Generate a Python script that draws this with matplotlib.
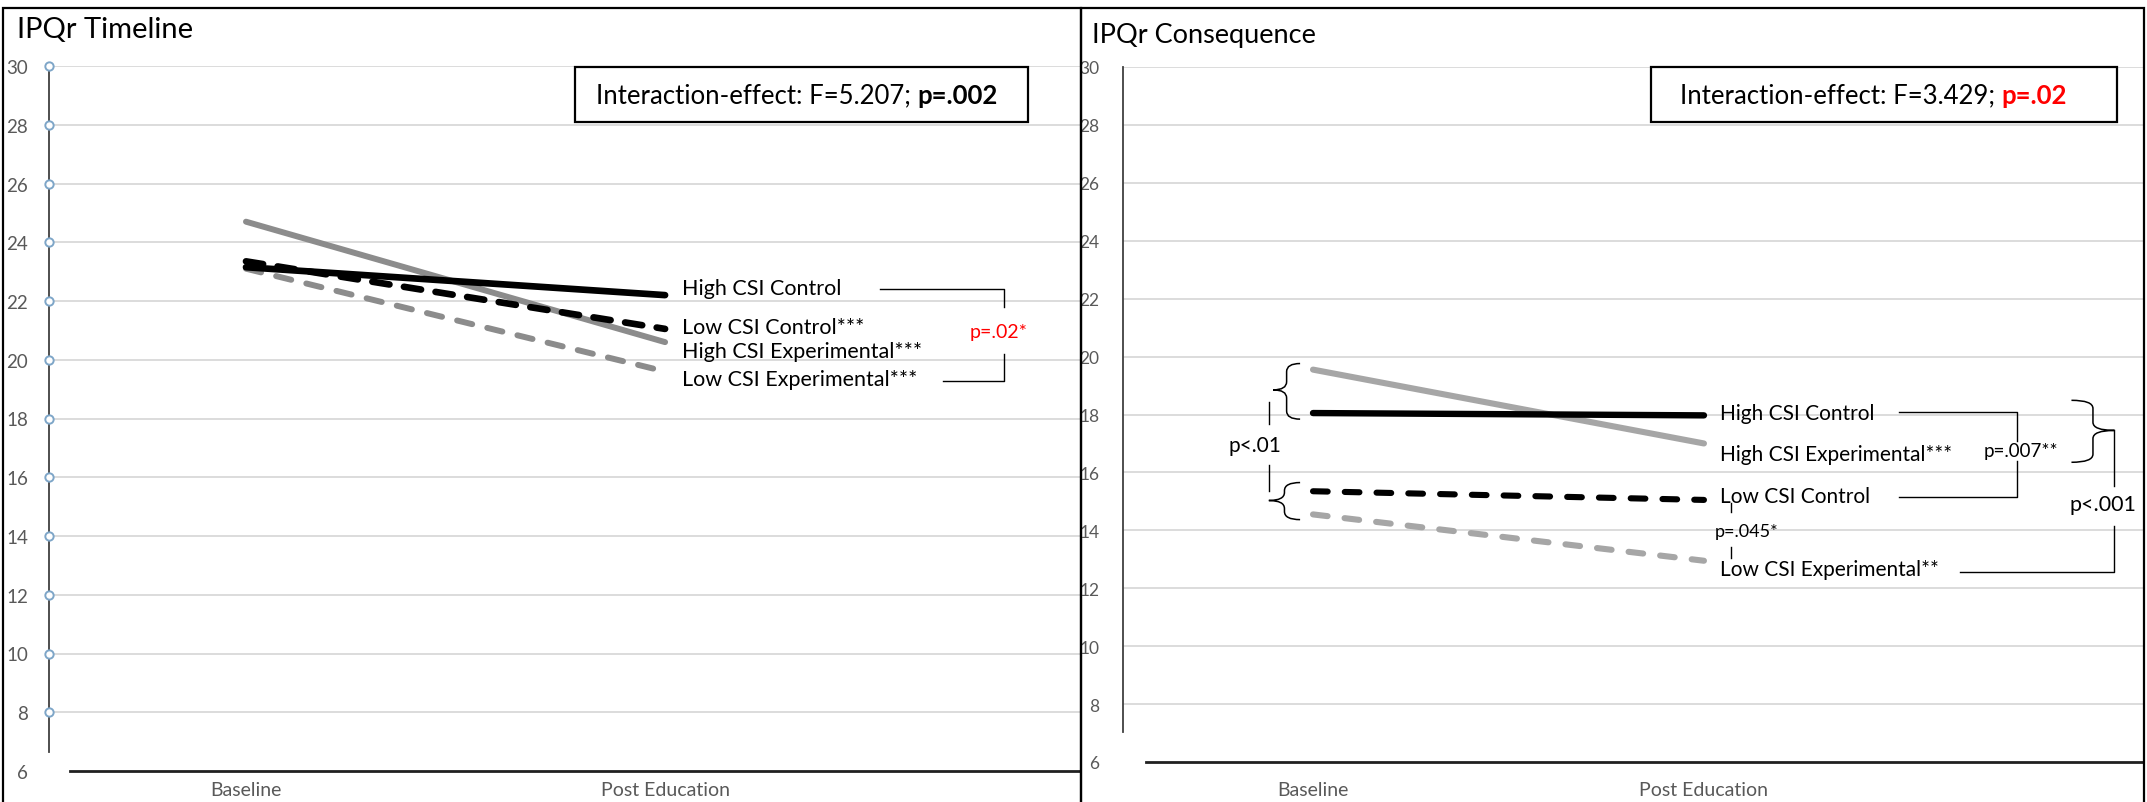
import matplotlib
matplotlib.use('Agg')
import matplotlib.pyplot as plt
from matplotlib.patches import Rectangle, PathPatch
from matplotlib.path import Path

plt.rcParams['font.family'] = ['Lato', 'DejaVu Sans']

# data
timepoints = ['Baseline', 'Post Education']
yticks = list(range(6, 31, 2))

tl_high_ctrl = [23.15, 22.2]
tl_low_ctrl = [23.35, 21.05]
tl_high_exp = [24.7, 20.6]
tl_low_exp = [23.1, 19.6]
tl_labels = ['High CSI Control', 'Low CSI Control***',
             'High CSI Experimental***', 'Low CSI Experimental***']
tl_label_y = [22.45, 21.1, 20.3, 19.35]

cq_high_ctrl = [18.05, 17.97]
cq_high_exp = [19.55, 17.0]
cq_low_ctrl = [15.35, 15.05]
cq_low_exp = [14.55, 12.95]
cq_labels = ['High CSI Control', 'High CSI Experimental***',
             'Low CSI Control', 'Low CSI Experimental**']
cq_label_y = [18.05, 16.62, 15.18, 12.65]

W, H = 2147, 803
fig = plt.figure(figsize=(W / 100, H / 100), dpi=100)


def fx(px):
    return px / W


def fy(py):
    return 1 - py / H


def brace(ax, x_hook, x_tip, y_top, y_bot, y_tip, r=0.28):
    xm = (x_hook + x_tip) / 2
    verts = [(x_hook, y_top), (xm, y_top), (xm, y_top - r),
             (xm, y_tip + r), (xm, y_tip), (x_tip, y_tip),
             (xm, y_tip), (xm, y_tip - r),
             (xm, y_bot + r), (xm, y_bot), (x_hook, y_bot)]
    codes = [Path.MOVETO, Path.CURVE3, Path.CURVE3, Path.LINETO,
             Path.CURVE3, Path.CURVE3, Path.CURVE3, Path.CURVE3,
             Path.LINETO, Path.CURVE3, Path.CURVE3]
    ax.add_patch(PathPatch(Path(verts, codes), fill=False, lw=1.1, color='black'))


def setup(ax, xlim, y_spine_low, x_spine_low, tick_fs, pad, xpad):
    ax.set_xlim(*xlim)
    ax.set_ylim(6, 30)
    ax.set_yticks(yticks)
    ax.set_xticks([0, 1])
    ax.set_xticklabels(timepoints)
    for s in ['top', 'right']:
        ax.spines[s].set_visible(False)
    ax.spines['left'].set_bounds(y_spine_low, 30)
    ax.spines['left'].set_color('#404040')
    ax.spines['left'].set_linewidth(1.3)
    ax.spines['bottom'].set_bounds(x_spine_low, xlim[1])
    ax.spines['bottom'].set_linewidth(2.0)
    ax.spines['bottom'].set_color('#202020')
    ax.tick_params(axis='y', length=0, pad=pad, labelsize=tick_fs, labelcolor='#595959')
    ax.tick_params(axis='x', length=0, pad=xpad, labelsize=14, labelcolor='#595959')
    for y in yticks[1:]:
        ax.axhline(y, color='#dcdcdc', lw=1.4, zorder=0)
    ax.patch.set_alpha(0)


# ---------------- left panel: IPQr Timeline ----------------
ax1 = fig.add_axes([fx(49), 31 / H, fx(1080 - 49), (772 - 67) / H])
setup(ax1, (-0.47, 1.99), 6.65, -0.42, 13.5, 15, 7)
ax1.plot([-0.47] * (len(yticks) - 1), yticks[1:], 'o', ms=6, mfc='white',
         mec='#7ea6c8', mew=1.4, clip_on=False, zorder=5)

ax1.plot([0, 1], tl_high_exp, color='#8c8c8c', lw=4.3, solid_capstyle='round')
ax1.plot([0, 1], tl_low_exp, color='#8c8c8c', lw=4.3, ls=(0, (2.6, 2.6)), dash_capstyle='round')
ax1.plot([0, 1], tl_low_ctrl, color='black', lw=4.8, ls=(0, (2.6, 2.2)), dash_capstyle='round')
ax1.plot([0, 1], tl_high_ctrl, color='black', lw=4.8, solid_capstyle='round')
for lab, y in zip(tl_labels, tl_label_y):
    ax1.text(1.04, y, lab, fontsize=15.5, va='center', ha='left')

ax1.plot([1.513, 1.809, 1.809], [22.4, 22.4, 21.79], color='black', lw=1.0)
ax1.plot([1.809, 1.809, 1.663], [20.19, 19.27, 19.27], color='black', lw=1.0)
ax1.text(1.797, 20.95, 'p=.02*', color='red', fontsize=14, ha='center', va='center')

# ---------------- right panel: IPQr Consequence ----------------
ax2 = fig.add_axes([fx(1123), 40 / H, fx(2143 - 1123), (763 - 68) / H])
setup(ax2, (-0.486, 2.123), 7.04, -0.427, 12.5, 17, 14)

ax2.plot([0, 1], cq_high_exp, color='#a6a6a6', lw=4.4, solid_capstyle='round')
ax2.plot([0, 1], cq_low_exp, color='#a6a6a6', lw=4.4, ls=(0, (2.4, 2.8)), dash_capstyle='round')
ax2.plot([0, 1], cq_low_ctrl, color='black', lw=4.4, ls=(0, (2.4, 2.8)), dash_capstyle='round')
ax2.plot([0, 1], cq_high_ctrl, color='black', lw=4.6, solid_capstyle='round')
for lab, y in zip(cq_labels, cq_label_y):
    ax2.text(1.04, y, lab, fontsize=15, va='center', ha='left')

brace(ax2, -0.033, -0.102, 19.76, 17.84, 18.85)
brace(ax2, -0.033, -0.113, 15.65, 14.37, 15.03)
ax2.plot([-0.113, -0.113], [18.43, 17.67], color='black', lw=1.0)
ax2.plot([-0.113, -0.113], [16.24, 15.37], color='black', lw=1.0)
ax2.text(-0.149, 16.94, 'p<.01', fontsize=15, ha='center', va='center')

ax2.plot([1.07, 1.07], [14.95, 14.62], color='black', lw=1.0)
ax2.plot([1.07, 1.07], [13.42, 13.05], color='black', lw=1.0)
ax2.text(1.11, 13.97, 'p=.045*', fontsize=13, ha='center', va='center')

ax2.plot([1.50, 1.80, 1.80], [18.08, 18.08, 17.1], color='black', lw=1.0)
ax2.plot([1.80, 1.80, 1.50], [16.4, 15.16, 15.16], color='black', lw=1.0)
ax2.text(1.81, 16.75, 'p=.007**', fontsize=13.5, ha='center', va='center')

brace(ax2, 1.94, 2.05, 18.49, 16.35, 17.45)
ax2.plot([2.05, 2.05], [17.45, 15.54], color='black', lw=1.0)
ax2.plot([2.05, 2.05, 1.655], [14.15, 12.56, 12.56], color='black', lw=1.0)
ax2.text(2.02, 14.9, 'p<.001', fontsize=15.5, ha='center', va='center')

# ---------------- panel frames, titles and effect boxes ----------------
fig.add_artist(Rectangle((fx(3), -0.01), fx(1081 - 3), fy(9) + 0.01, fill=False,
                         lw=1.6, ec='black', transform=fig.transFigure))
fig.add_artist(Rectangle((fx(1081), -0.01), fx(2144 - 1081), fy(9) + 0.01, fill=False,
                         lw=1.6, ec='black', transform=fig.transFigure))
fig.text(fx(17), fy(30), 'IPQr Timeline', fontsize=21, va='center', ha='left')
fig.text(fx(1092), fy(35), 'IPQr Consequence', fontsize=19.5, va='center', ha='left')

for (x0, x1), tx, f_txt, p_txt, p_col in [((575, 1028), 596, 'Interaction-effect: F=5.207; ', 'p=.002', 'black'),
                                        ((1651, 2117), 1680, 'Interaction-effect: F=3.429; ', 'p=.02', 'red')]:
    fig.add_artist(Rectangle((fx(x0), fy(123)), fx(x1 - x0), (123 - 68) / H, fill=True,
                             fc='white', lw=1.6, ec='black', transform=fig.transFigure, zorder=3))
    t = fig.text(fx(tx), fy(96), f_txt, fontsize=18.5, va='center', ha='left', zorder=4)
    fig.canvas.draw()
    bb = t.get_window_extent()
    fig.text(bb.x1, (bb.y0 + bb.y1) / 2, p_txt, fontsize=18.5, fontweight='bold', color=p_col,
             va='center', ha='left', zorder=4, transform=matplotlib.transforms.IdentityTransform())

fig.savefig('out.png', dpi=100)
